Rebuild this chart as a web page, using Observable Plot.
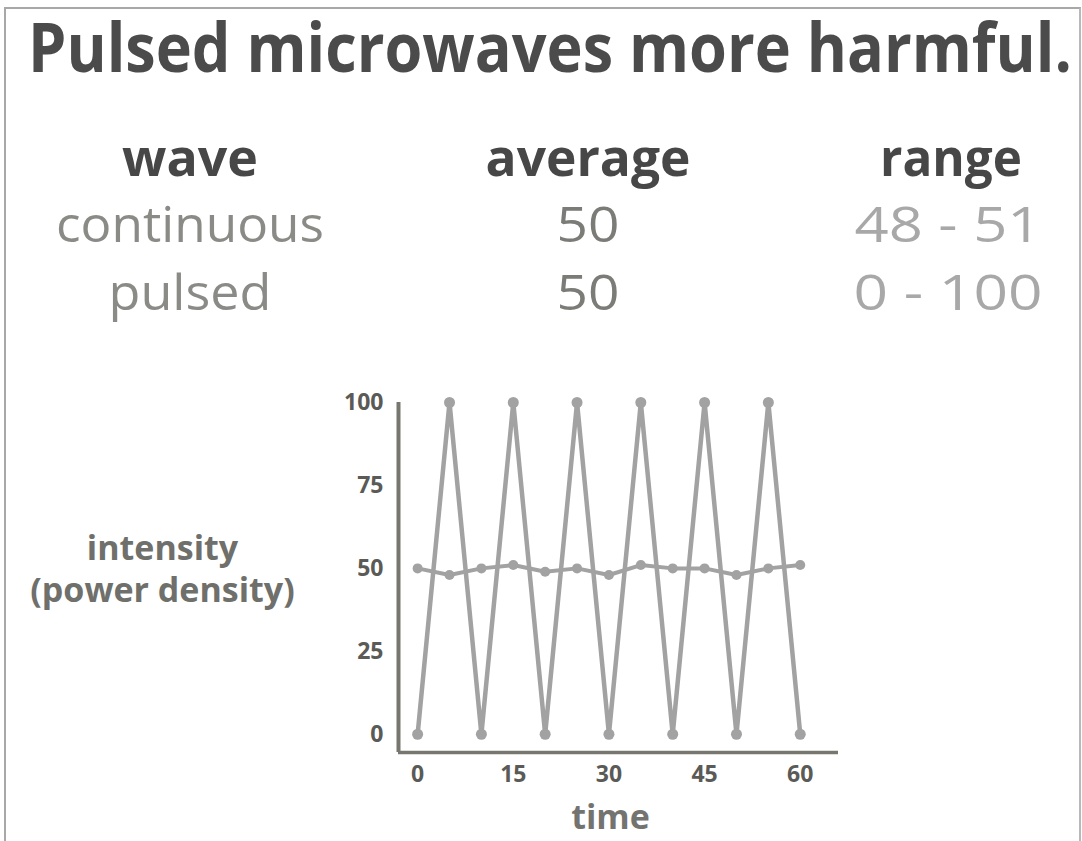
<!DOCTYPE html>
<html>
<head>
<meta charset="utf-8">
<script src="https://cdn.jsdelivr.net/npm/d3@7"></script>
<script src="https://cdn.jsdelivr.net/npm/@observablehq/plot@0.6"></script>
<style>
  html, body { margin: 0; padding: 0; background: #fff; }
  #stage { position: relative; width: 1082px; height: 841px; overflow: hidden; background: #fff; font-family: "Open Sans", "DejaVu Sans", sans-serif; }
  #frame { position: absolute; left: 4px; top: 7px; width: 1073px; height: 900px; border-left: 2px solid #a8a8a8; border-top: 2px solid #a8a8a8; border-right: 2px solid #b8b8b8; }
  #chart { position: absolute; left: 0; top: 380px; }
  #chart svg text { font-weight: bold; }
</style>
</head>
<body>
<div id="stage"><div id="frame"></div><div id="chart"></div></div>
<script>
// ---- data ----
const title = "Pulsed microwaves more harmful.";
const tableHeaders = ["wave", "average", "range"];
const waveNames = ["continuous", "pulsed"];
const waveAverages = ["50", "50"];
const waveRanges = ["48 - 51", "0 - 100"];

const time = [0, 5, 10, 15, 20, 25, 30, 35, 40, 45, 50, 55, 60];
const pulsed = [0, 100, 0, 100, 0, 100, 0, 100, 0, 100, 0, 100, 0];
const continuous = [50, 48, 50, 51, 49, 50, 48, 51, 50, 50, 48, 50, 51];
const xTicks = [0, 15, 30, 45, 60];
const yTicks = [0, 25, 50, 75, 100];
const xLabel = "time";
const yLabel = "intensity\n(power density)";

// ---- text placement helper (HTML): width set by font size, height by scaleY ----
const stage = document.getElementById("stage");
function place(txt, o) {
  const d = document.createElement("div");
  d.style.cssText = `position:absolute;left:0;top:0;white-space:nowrap;line-height:1;font-size:${o.size}px;font-weight:${o.weight||400};color:${o.color};`;
  const s = document.createElement("span"); s.textContent = txt; d.append(s);
  const m = document.createElement("span");
  m.style.cssText = "display:inline-block;width:0;height:0;vertical-align:baseline;";
  d.append(m);
  stage.append(d);
  let size = o.size;
  if (o.width) {
    const natW = s.getBoundingClientRect().width;
    size = o.size * o.width / natW;
    d.style.fontSize = size + "px";
  }
  const dr = d.getBoundingClientRect();
  const w = s.getBoundingClientRect().width;
  const baseOff = m.getBoundingClientRect().top - dr.top;
  const ky = o.size / size;
  d.style.transformOrigin = `0 ${baseOff}px`;
  d.style.transform = `scaleY(${ky})`;
  d.style.left = (o.cx != null ? o.cx - w / 2 : o.left) + "px";
  d.style.top = (o.baseline - baseOff) + "px";
}

place(title, {left: 28, width: 1044, baseline: 72, size: 68, weight: 700, color: "#4b4b4b"});
const colCenters = [190, 588, 951];
const headerWidths = [136, 205, 142];
tableHeaders.forEach((h, i) => place(h, {cx: colCenters[i], width: headerWidths[i], baseline: 176, size: 52, weight: 700, color: "#474747"}));
const nameWidths = [268, 163];
const rangeWidths = [187, 189];
const rowBase = [242, 310];
waveNames.forEach((n, r) => {
  place(n, {cx: colCenters[0], width: nameWidths[r], baseline: rowBase[r], size: 50, weight: 400, color: "#8a8a86"});
  place(waveAverages[r], {cx: colCenters[1], width: 63, baseline: rowBase[r], size: 50, weight: 400, color: "#7b7b77"});
  place(waveRanges[r], {cx: 948, width: rangeWidths[r], baseline: rowBase[r], size: 50, weight: 400, color: "#a8a8a8"});
});

// ---- chart ----
const rows = time.map((t, i) => ({t, pulsed: pulsed[i], continuous: continuous[i]}));
const xDomain = [-3, 66];
const yDomain = [-5.5, 100];
const lineColor = "#a2a2a2";
const axisColor = "#77776f";
const tickColor = "#5a5a56";

const chart = Plot.plot({
  width: 1082,
  height: 461,
  marginLeft: 398,
  marginRight: 244,
  marginTop: 22,
  marginBottom: 89,
  style: {fontFamily: "'Open Sans', 'DejaVu Sans', sans-serif", background: "transparent", color: tickColor, overflow: "visible"},
  x: {domain: xDomain},
  y: {domain: yDomain},
  marks: [
    Plot.axisY({ticks: yTicks, tickSize: 0, tickPadding: 15, fontSize: 23, label: null, fill: tickColor}),
    Plot.axisX({ticks: xTicks, tickSize: 0, tickPadding: 13, fontSize: 23, label: null, fill: tickColor}),
    Plot.ruleX([xDomain[0]], {stroke: axisColor, strokeWidth: 4}),
    Plot.ruleY([yDomain[0]], {stroke: axisColor, strokeWidth: 3.5}),
    Plot.line(rows, {x: "t", y: "pulsed", stroke: lineColor, strokeWidth: 4.5}),
    Plot.dot(rows, {x: "t", y: "pulsed", fill: lineColor, r: 5.5}),
    Plot.line(rows, {x: "t", y: "continuous", stroke: lineColor, strokeWidth: 4}),
    Plot.dot(rows, {x: "t", y: "continuous", fill: lineColor, r: 5}),
    Plot.text([xLabel], {frameAnchor: "bottom", dx: -8, dy: 66, fontSize: 34, fontWeight: "bold", fill: "#737370", lineAnchor: "middle"}),
    Plot.text([yLabel], {frameAnchor: "left", dx: -236, dy: -10, fontSize: 34, fontWeight: "bold", fill: "#6f6f6b", lineHeight: 1.22, textAnchor: "middle"})
  ]
});
document.getElementById("chart").append(chart);
</script>
</body>
</html>
